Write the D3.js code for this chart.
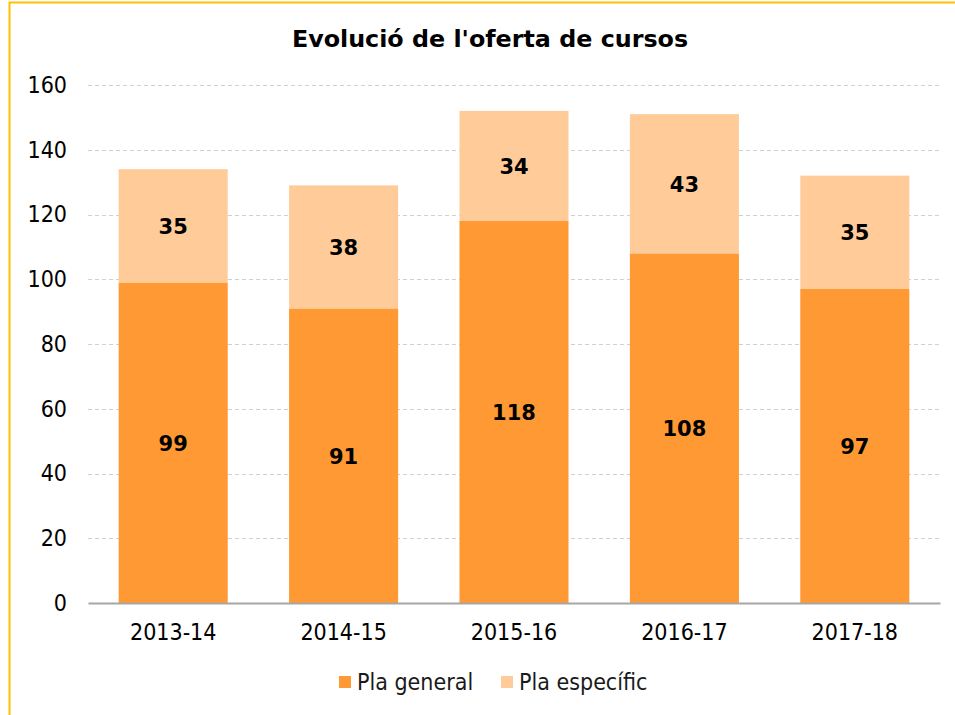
<!DOCTYPE html>
<html>
<head>
<meta charset="utf-8">
<script src="https://cdn.jsdelivr.net/npm/d3@7"></script>
<style>
  body { margin: 0; background: #fff; }
  svg { display: block; font-family: "DejaVu Sans Condensed", "DejaVu Sans", sans-serif; }
  .bold { font-family: "DejaVu Sans", sans-serif; font-weight: bold; }
</style>
</head>
<body>
<div id="chart"></div>
<script>
// Chart data
const years = ['2013-14', '2014-15', '2015-16', '2016-17', '2017-18'];
const plaGeneral = [99, 91, 118, 108, 97];
const plaEspecific = [35, 38, 34, 43, 35];
const seriesNames = ['Pla general', 'Pla específic'];
const seriesColors = ['#FF9933', '#FFCC99'];
const yTicks = [0, 20, 40, 60, 80, 100, 120, 140, 160];

const width = 955, height = 715;
const margin = { top: 85, right: 15, bottom: 112, left: 88 };
const innerW = width - margin.left - margin.right;
const innerH = height - margin.top - margin.bottom;

const svg = d3.select('#chart').append('svg')
  .attr('width', width)
  .attr('height', height);

// Frame (only left and top edges fall inside the picture)
svg.append('path')
  .attr('d', `M9.5,${height} L9.5,2.5 L${width},2.5`)
  .attr('fill', 'none')
  .attr('stroke', '#FFC000')
  .attr('stroke-width', 2);

svg.append('text')
  .attr('class', 'bold')
  .attr('x', 490)
  .attr('y', 47)
  .attr('text-anchor', 'middle')
  .style('font-size', '23.8px')
  .text("Evolució de l'oferta de cursos");

const chart = svg.append('g')
  .attr('transform', `translate(${margin.left},${margin.top})`);

const x = d3.scaleBand().domain(years).range([0, innerW]).paddingInner(0.36).paddingOuter(0.18);
const y = d3.scaleLinear().domain([0, 160]).range([innerH, 0]);

// Gridlines
chart.selectAll('.grid')
  .data(yTicks.filter(d => d > 0))
  .join('line')
  .attr('x1', 0)
  .attr('x2', innerW)
  .attr('y1', d => Math.round(y(d)) + 0.5)
  .attr('y2', d => Math.round(y(d)) + 0.5)
  .attr('stroke', '#d0d0d0')
  .attr('stroke-dasharray', '4,3');

// Stack
const rows = years.map((yr, i) => ({ year: yr, g: plaGeneral[i], e: plaEspecific[i] }));
const stack = d3.stack().keys(['g', 'e'])(rows);

stack.forEach((layer, li) => {
  chart.append('g').selectAll('rect')
    .data(layer)
    .join('rect')
    .attr('x', d => x(d.data.year))
    .attr('width', x.bandwidth())
    .attr('y', d => y(d[1]))
    .attr('height', d => y(d[0]) - y(d[1]))
    .attr('fill', seriesColors[li]);

  chart.append('g').selectAll('text')
    .data(layer)
    .join('text')
    .attr('class', 'bold')
    .attr('x', d => x(d.data.year) + x.bandwidth() / 2)
    .attr('y', d => (y(d[0]) + y(d[1])) / 2)
    .attr('dy', '0.38em')
    .attr('text-anchor', 'middle')
    .style('font-size', '21px')
    .text(d => d[1] - d[0]);
});

// Axes
const yAxis = chart.append('g')
  .call(d3.axisLeft(y).tickValues(yTicks).tickSize(0).tickPadding(21));
yAxis.select('.domain').remove();

const xAxis = chart.append('g')
  .attr('transform', `translate(0,${innerH})`)
  .call(d3.axisBottom(x).tickSize(0).tickPadding(21));
xAxis.select('.domain').attr('stroke', '#a6a6a6').attr('stroke-width', 2);

[yAxis, xAxis].forEach(ax => {
  ax.attr('font-family', null).attr('font-size', null);
  ax.selectAll('text').style('font-size', '23px').attr('fill', '#000');
});

// Legend
const legend = svg.append('g').attr('transform', 'translate(339,682)');
const legendX = [0, 162];
seriesNames.forEach((name, i) => {
  legend.append('rect')
    .attr('x', legendX[i])
    .attr('y', -6)
    .attr('width', 12)
    .attr('height', 12)
    .attr('fill', seriesColors[i]);
  legend.append('text')
    .attr('x', legendX[i] + 18)
    .attr('y', 0)
    .attr('dy', '0.36em')
    .style('font-size', '23px')
    .attr('fill', '#1a1a1a')
    .text(name);
});
</script>
</body>
</html>
